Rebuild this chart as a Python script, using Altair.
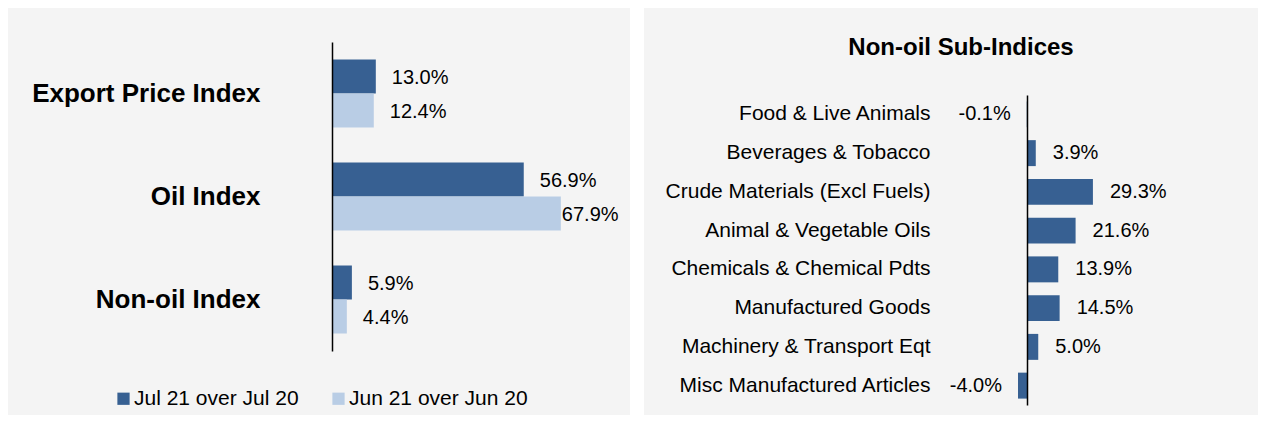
import altair as alt
import pandas as pd

# ---------------- data ----------------
categories = ["Export Price Index", "Oil Index", "Non-oil Index"]
series = ["Jul 21 over Jul 20", "Jun 21 over Jun 20"]
jul_values = [13.0, 56.9, 5.9]
jun_values = [12.4, 67.9, 4.4]

sub_title = "Non-oil Sub-Indices"
sub_categories = [
    "Food & Live Animals",
    "Beverages & Tobacco",
    "Crude Materials (Excl Fuels)",
    "Animal & Vegetable Oils",
    "Chemicals & Chemical Pdts",
    "Manufactured Goods",
    "Machinery & Transport Eqt",
    "Misc Manufactured Articles",
]
sub_values = [-0.1, 3.9, 29.3, 21.6, 13.9, 14.5, 5.0, -4.0]

# ---------------- styles ----------------
DARK = "#376092"
LIGHT = "#B9CDE5"
PANEL = "#f4f4f4"
FONT = "Liberation Sans"

left_df = pd.DataFrame({
    "category": categories * 2,
    "series": [series[0]] * len(categories) + [series[1]] * len(categories),
    "value": jul_values + jun_values,
})
left_df["label"] = left_df["value"].map(lambda v: f"{v:.1f}%")

right_df = pd.DataFrame({"category": sub_categories, "value": sub_values})
right_df["label"] = right_df["value"].map(lambda v: f"{v:.1f}%")

# ---------------- left panel (plot area = whole grey box) ----------------
LW, LH = 622, 407
L_ZERO = 324          # px of the zero line inside the panel
L_PX = 3.37           # px per percentage point
y_left = alt.Y(
    "category:N", sort=None,
    scale=alt.Scale(domain=categories, range=[34, 343], paddingInner=0.34, paddingOuter=0.17),
    axis=alt.Axis(title=None, ticks=False, offset=-L_ZERO, labelPadding=72, labelFont=FONT,
                  labelFontSize=26, labelFontWeight="bold", labelColor="black",
                  domainColor="black", domainWidth=1.5, labelLimit=400, zindex=1),
)
x_left = alt.X(
    "value:Q",
    scale=alt.Scale(domain=[-L_ZERO / L_PX, (LW - L_ZERO) / L_PX], nice=False, zero=False),
    axis=None,
)
color_left = alt.Color(
    "series:N", sort=None,
    scale=alt.Scale(domain=series, range=[DARK, LIGHT]),
    legend=alt.Legend(title=None, orient="none", legendX=105, legendY=380,
                      direction="horizontal", symbolType="square",
                      symbolSize=150, symbolStrokeWidth=0, labelFont=FONT,
                      labelFontSize=21, labelColor="black", labelOffset=0,
                      columnPadding=29, labelLimit=300),
)

base_left = alt.Chart(left_df)
is_jul = f"datum.series == '{series[0]}'"
is_jun = f"datum.series == '{series[1]}'"

bars_jul = base_left.transform_filter(is_jul).mark_bar(height={"band": 0.5}, yOffset=-17).encode(
    y=y_left, x=x_left, color=color_left
)
bars_jun = base_left.transform_filter(is_jun).mark_bar(height={"band": 0.5}, yOffset=17).encode(
    y=y_left, x=x_left, color=color_left
)
txt = dict(align="left", baseline="middle", font=FONT, fontSize=20, color="black")
text_jul = base_left.transform_filter(is_jul).mark_text(dx=16, yOffset=-16, **txt).encode(
    y=y_left, x=x_left, text="label:N"
)
text_jun_a = base_left.transform_filter(is_jun + " && datum.value < 60").mark_text(
    dx=16, yOffset=18, **txt
).encode(y=y_left, x=x_left, text="label:N")
text_jun_b = base_left.transform_filter(is_jun + " && datum.value >= 60").mark_text(
    dx=1, yOffset=18, **txt
).encode(y=y_left, x=x_left, text="label:N")

left = alt.layer(bars_jul, bars_jun, text_jul, text_jun_a, text_jun_b).properties(width=LW, height=LH)

# ---------------- right panel (plot area = whole grey box) ----------------
RW, RH = 614, 407
R_ZERO = 383
R_PX = 2.25
y_right = alt.Y(
    "category:N", sort=None,
    scale=alt.Scale(domain=sub_categories, range=[87, 397], paddingInner=0.33, paddingOuter=0.165),
    axis=alt.Axis(title=None, ticks=False, offset=-R_ZERO, labelPadding=97,
                  labelFont=FONT, labelFontSize=21, labelColor="black", labelLimit=400,
                  domainColor="black", domainWidth=1.5, zindex=1),
)
x_right = alt.X(
    "value:Q",
    scale=alt.Scale(domain=[-R_ZERO / R_PX, (RW - R_ZERO) / R_PX], nice=False, zero=False),
    axis=None,
)

base_right = alt.Chart(right_df)
bars_right = base_right.mark_bar(color=DARK).encode(y=y_right, x=x_right)
text_right_pos = base_right.transform_filter("datum.value >= 0").mark_text(
    align="left", baseline="middle", dx=17, font=FONT, fontSize=20, color="black"
).encode(y=y_right, x=x_right, text="label:N")
text_right_neg = base_right.transform_filter("datum.value < 0").mark_text(
    align="right", baseline="middle", dx=-16, font=FONT, fontSize=20, color="black"
).encode(y=y_right, x=x_right, text="label:N")

right = alt.layer(bars_right, text_right_pos, text_right_neg).properties(
    width=RW, height=RH,
    title=alt.TitleParams(text=sub_title, font=FONT, fontSize=24, fontWeight="bold",
                          color="black", anchor="middle", frame="group", offset=-64,
                          baseline="middle", dx=10),
)

chart = (
    alt.hconcat(left, right, spacing=14)
    .properties(padding=0, background="white")
    .configure_view(strokeWidth=0, fill=PANEL)
)

chart.save("out.html", embed_options={"renderer": "svg", "actions": False})
